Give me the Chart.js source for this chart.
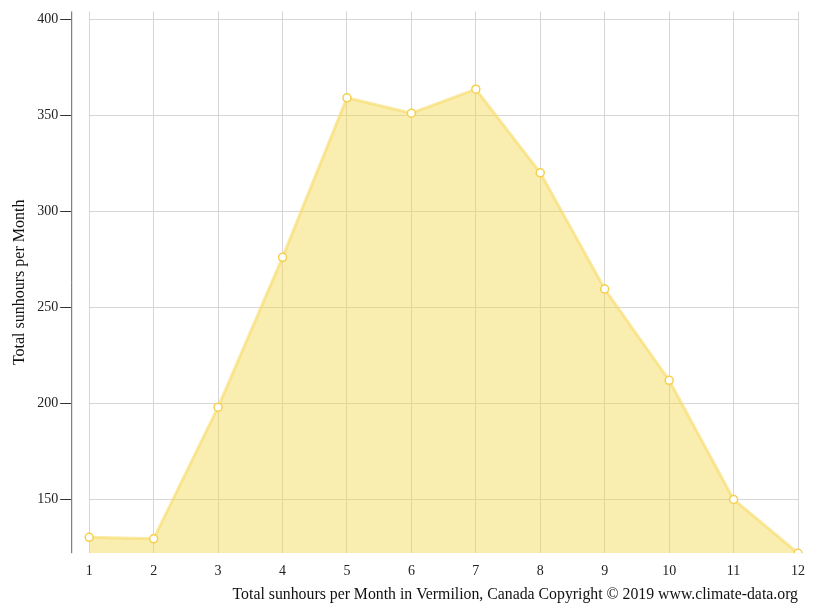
<!DOCTYPE html>
<html lang="en">
<head>
<meta charset="UTF-8">
<title>Sunhours Vermilion</title>
<script src="https://cdn.jsdelivr.net/npm/chart.js"></script>
<style>
  html,body{margin:0;padding:0;background:#fff;overflow:hidden;}
  #myChart{display:block;}
</style>
</head>
<body>
<canvas id="myChart" width="815" height="611"></canvas>
<script>
// data
const months = ['1','2','3','4','5','6','7','8','9','10','11','12'];
const sunhours = [130.3, 129.5, 198, 276, 359, 351, 363.5, 320, 259.5, 212, 150, 122];
const yTicks = [150, 200, 250, 300, 350, 400];

// y axis line sits a bit left of the plot, drawn by hand
const leftAxis = {
    id: 'leftAxis',
    afterDraw(chart){
        const ctx = chart.ctx;
        const area = chart.chartArea;
        const y = chart.scales.y;
        const ax = area.left - 18;
        ctx.save();
        ctx.strokeStyle = '#666';
        ctx.lineWidth = 1;
        ctx.beginPath();
        ctx.moveTo(ax + 0.5, area.top);
        ctx.lineTo(ax + 0.5, area.bottom);
        ctx.stroke();
        ctx.strokeStyle = '#333';
        yTicks.forEach(v=>{
            const py = Math.round(y.getPixelForValue(v)) + 0.5;
            ctx.beginPath();
            ctx.moveTo(ax - 11, py);
            ctx.lineTo(ax, py);
            ctx.stroke();
        });
        ctx.restore();
    }
};

const ctx = document.querySelector('#myChart').getContext('2d');
new Chart(ctx, {
    type: 'line',
    data: {
        labels: months,
        datasets: [{
            data: sunhours,
            fill: 'start',
            backgroundColor: 'rgba(245,215,80,0.45)',
            borderColor: 'rgba(246,218,100,0.6)',
            borderWidth: 3,
            tension: 0,
            pointRadius: 4,
            pointBackgroundColor: '#fff',
            pointBorderColor: '#F4D04C',
            pointBorderWidth: 1.5
        }]
    },
    options: {
        responsive: false,
        animation: false,
        devicePixelRatio: 1,
        layout: { padding: { top: 9, right: 17, left: 0, bottom: -1 } },
        plugins: {
            legend: { display: false },
            tooltip: { enabled: false }
        },
        scales: {
            x: {
                grid: { color: '#d6d6d6', drawTicks: false },
                border: { display: false },
                ticks: {
                    color: '#222',
                    padding: 10,
                    maxRotation: 0,
                    autoSkip: false,
                    font: { family: 'Liberation Serif', size: 14 }
                },
                title: {
                    display: true,
                    text: 'Total sunhours per Month in Vermilion, Canada Copyright © 2019 www.climate-data.org',
                    align: 'end',
                    color: '#111',
                    padding: { top: -5, bottom: 8 },
                    font: { family: 'Liberation Serif', size: 15.8 }
                }
            },
            y: {
                min: 122,
                max: 404,
                afterBuildTicks: axis => { axis.ticks = yTicks.map(v=>({value:v})); },
                grid: { color: '#d6d6d6', drawTicks: true, tickLength: 28, tickColor: 'rgba(0,0,0,0)' },
                border: { display: false },
                ticks: {
                    color: '#222',
                    padding: 3,
                    font: { family: 'Liberation Serif', size: 14 }
                },
                title: {
                    display: true,
                    text: 'Total sunhours per Month',
                    color: '#111',
                    padding: { top: 10, bottom: 5 },
                    font: { family: 'Liberation Serif', size: 16 }
                }
            }
        }
    },
    plugins: [leftAxis]
});
</script>
</body>
</html>
